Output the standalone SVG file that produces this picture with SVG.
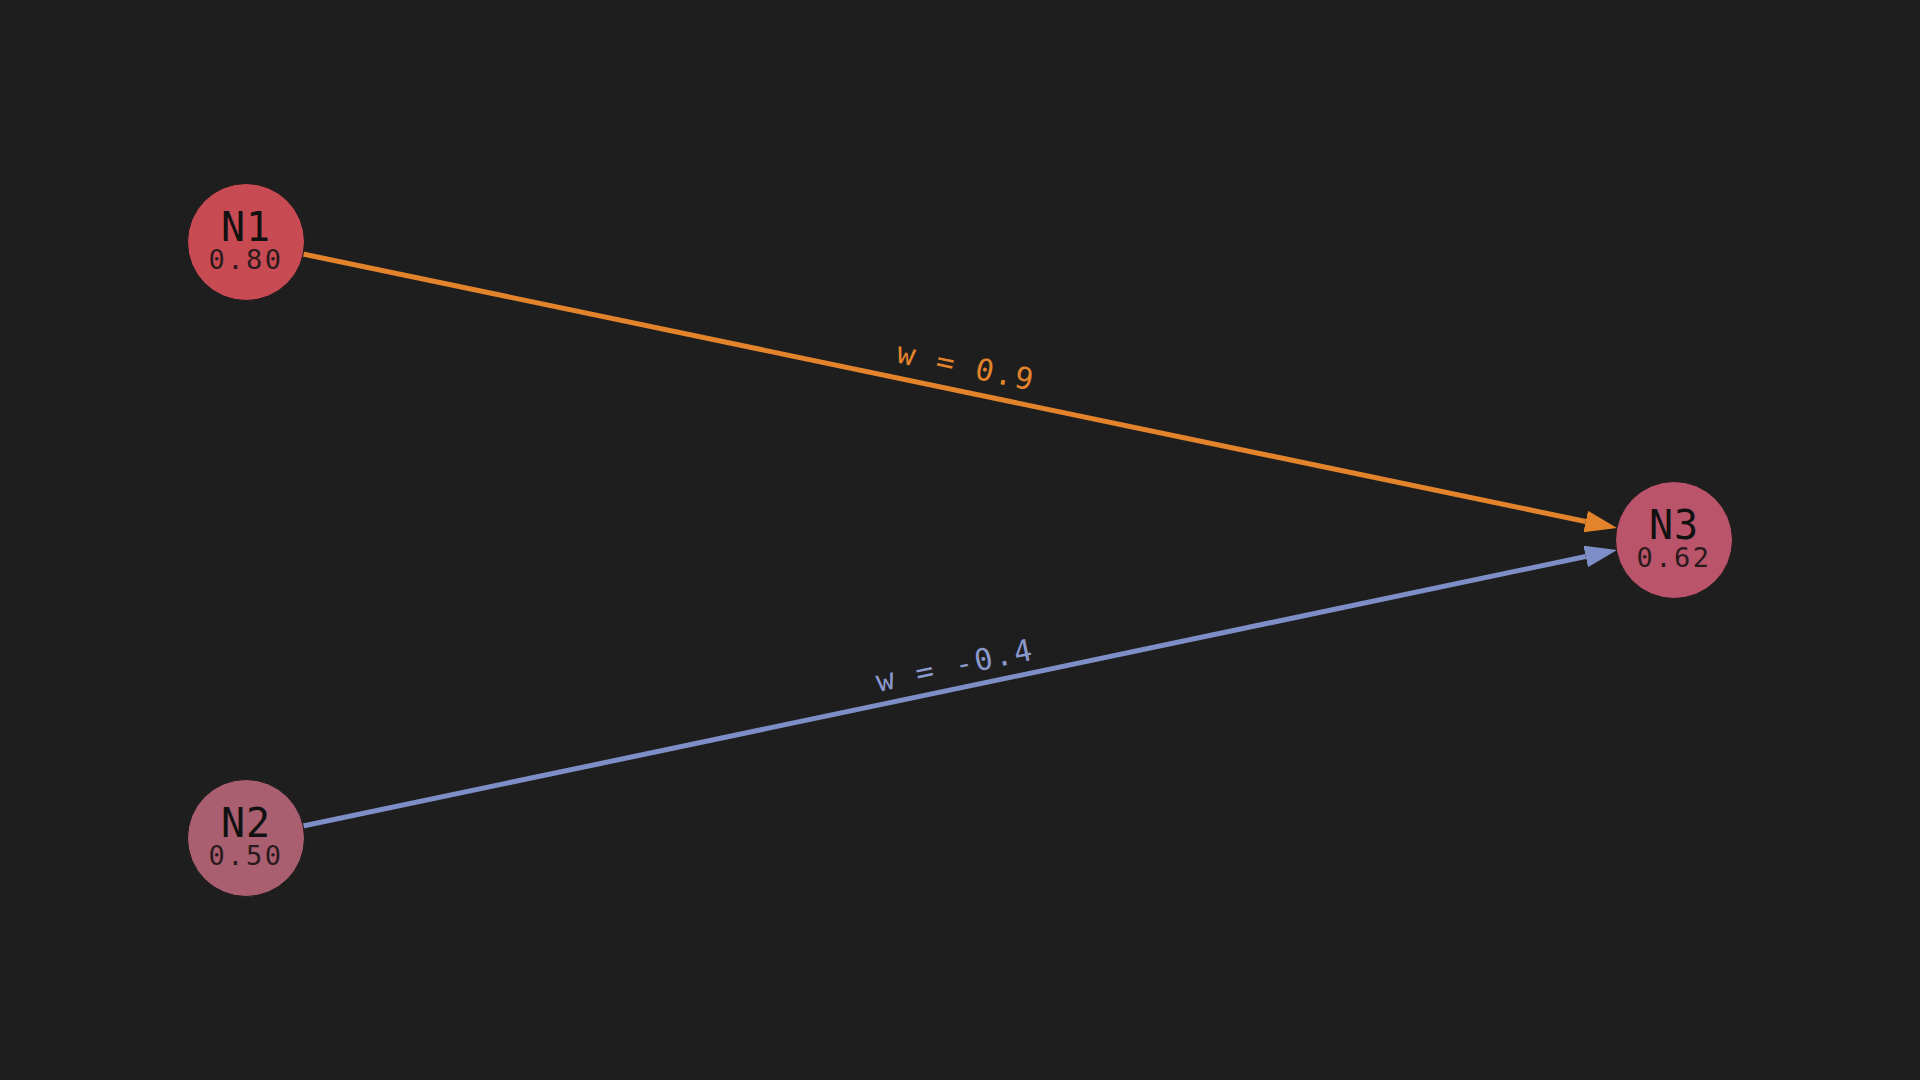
<svg xmlns="http://www.w3.org/2000/svg" width="1920" height="1080" viewBox="0 0 1920 1080">
<style>
.node-name{font-family:"DejaVu Sans Mono",monospace;font-size:40px;fill:#111;text-anchor:middle;letter-spacing:1px}
.node-val{font-family:"DejaVu Sans Mono",monospace;font-size:27px;fill:#2a1a1c;text-anchor:middle;letter-spacing:2.5px}
.edge{stroke-width:5;fill:none}
.elabel{font-family:"DejaVu Sans Mono",monospace;font-size:30px;text-anchor:middle;letter-spacing:2px}
</style>
<defs>
<marker id="arrO" markerUnits="userSpaceOnUse" markerWidth="33" markerHeight="23" refX="0" refY="11" orient="auto"><path d="M0,0 L32,11 L0,22 Z" fill="#e3842c"/></marker>
<marker id="arrB" markerUnits="userSpaceOnUse" markerWidth="33" markerHeight="23" refX="0" refY="11" orient="auto"><path d="M0,0 L32,11 L0,22 Z" fill="#7e8ec6"/></marker>
</defs>
<rect width="1920" height="1080" fill="#1e1e1e"/>
<g id="connectors">
<line class="edge" x1="303" y1="254" x2="1585.7" y2="521.5" stroke="#e3842c" marker-end="url(#arrO)"/>
<line class="edge" x1="303" y1="826" x2="1585.7" y2="556.5" stroke="#7e8ec6" marker-end="url(#arrB)"/>
<text class="elabel" fill="#e3842c" transform="translate(964,376.5) rotate(11.79)">w = 0.9</text>
<text class="elabel" fill="#8a98cc" transform="translate(957,675.5) rotate(-11.79)">w = -0.4</text>
</g>
<g id="N1">
<circle cx="246" cy="242" r="58.5" fill="#c84b54" stroke="#1a1a1a" stroke-width="1"/>
<text class="node-name" x="246" y="241">N1</text>
<text class="node-val" x="246" y="269">0.80</text>
</g>
<g id="N2">
<circle cx="246" cy="838" r="58.5" fill="#a95f70" stroke="#1a1a1a" stroke-width="1"/>
<text class="node-name" x="246" y="837">N2</text>
<text class="node-val" x="246" y="865">0.50</text>
</g>
<g id="N3">
<circle cx="1674" cy="540" r="58.5" fill="#b9546a" stroke="#1a1a1a" stroke-width="1"/>
<text class="node-name" x="1674" y="539">N3</text>
<text class="node-val" x="1674" y="567">0.62</text>
</g>
</svg>
